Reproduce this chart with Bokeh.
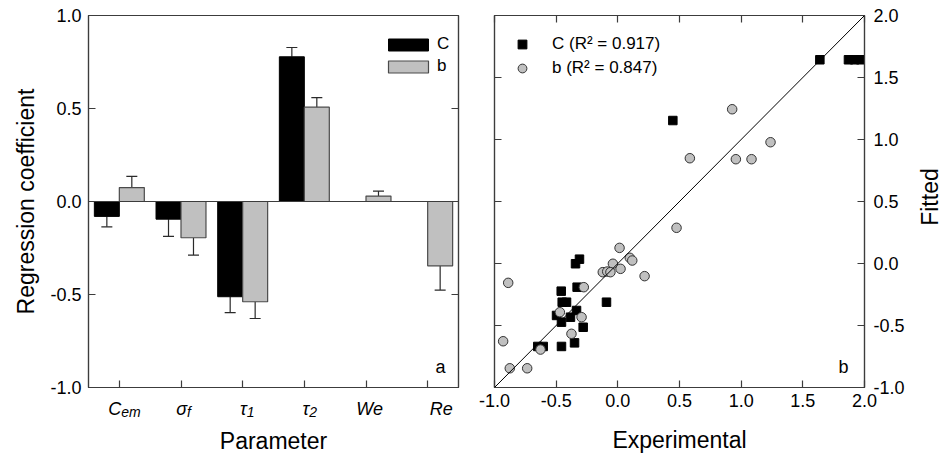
import math

from bokeh.core.properties import value
from bokeh.embed import file_html
from bokeh.layouts import column, row
from bokeh.models import (ColumnDataSource, FixedTicker, Label, Legend, LegendItem,
                          LinearAxis, PrintfTickFormatter, Range1d, Slope, Span,
                          TeeHead, Whisker)
from bokeh.plotting import figure
from bokeh.resources import INLINE

nan = float("nan")

# ---- panel a: regression coefficients of each parameter ----
param_base = ["C", "σ", "τ", "τ", "We", "Re"]
param_sub = ["em", "f", "1", "2", "", ""]
coef_C = [-0.080, -0.095, -0.512, 0.778, nan, nan]
err_C = [0.056, 0.093, 0.085, 0.050, nan, nan]
coef_b = [0.075, -0.195, -0.539, 0.507, 0.029, -0.346]
err_b = [0.060, 0.093, 0.090, 0.052, 0.027, 0.130]
coef_ticks = [-1.0, -0.5, 0.0, 0.5, 1.0]

# ---- panel b: fitted against experimental values ----
exp_C = [0.446, 1.638, 1.870, 1.920, 1.970, -0.311, -0.343, -0.330, -0.459, -0.451,
         -0.416, -0.092, -0.335, -0.497, -0.384, -0.457, -0.281, -0.649, -0.605,
         -0.457, -0.351]
fit_C = [1.153, 1.643, 1.643, 1.643, 1.643, 0.035, -0.002, -0.191, -0.223, -0.312,
         -0.312, -0.312, -0.379, -0.419, -0.433, -0.473, -0.514, -0.669, -0.669,
         -0.669, -0.640]
exp_b = [0.476, 0.014, -0.040, -0.122, -0.086, -0.060, 0.022, 0.097, 0.117, 0.217,
         -0.889, -0.276, -0.470, -0.294, -0.376, -0.627, -0.930, -0.876, -0.735,
         0.927, 0.584, 0.957, 1.084, 1.238]
fit_b = [0.288, 0.126, -0.002, -0.070, -0.065, -0.070, -0.043, 0.046, 0.024, -0.102,
         -0.156, -0.191, -0.393, -0.433, -0.567, -0.694, -0.627, -0.845, -0.845,
         1.244, 0.849, 0.841, 0.841, 0.978]
r2_C = 0.917
r2_b = 0.847
xy_ticks = [-1.0, -0.5, 0.0, 0.5, 1.0, 1.5, 2.0]

FONT = "Liberation Sans"
FRAME = "#3c3c3c"
GREY = "#c0c0c0"
TICK_PX = "18px"
TITLE_PX = "23px"
BAR_W = 0.405
FMT = PrintfTickFormatter(format="%.1f")


def style_axis(ax, labels=True):
    ax.axis_line_color = FRAME
    ax.axis_line_width = 1.2
    ax.major_tick_in = 7
    ax.major_tick_out = 0
    ax.major_tick_line_color = FRAME
    ax.major_tick_line_width = 1.2
    ax.minor_tick_line_color = None
    ax.major_label_text_font = FONT
    ax.axis_label_text_font = FONT
    ax.axis_label_text_font_size = TITLE_PX
    ax.axis_label_text_font_style = "normal"
    ax.axis_label_text_color = "black"
    if labels:
        ax.major_label_text_font_size = TICK_PX
        ax.major_label_text_color = "black"
        ax.formatter = FMT
    else:
        # tick marks only
        ax.major_label_text_font_size = "1px"
        ax.major_label_text_color = None
        ax.major_label_standoff = 0


def style_frame(p):
    p.outline_line_color = FRAME
    p.outline_line_width = 1.2
    p.xgrid.visible = False
    p.ygrid.visible = False
    p.background_fill_color = "white"
    p.border_fill_color = "white"


def text_strip(width, height, x_range):
    # borderless area that only carries titles / labels
    s = figure(width=width, height=height, output_backend="svg", toolbar_location=None,
               title=None, x_range=x_range, y_range=Range1d(height, 0),
               x_axis_type=None, y_axis_type=None, min_border_top=0,
               min_border_bottom=0, min_border_left=0, min_border_right=0)
    s.outline_line_color = None
    s.xgrid.visible = False
    s.ygrid.visible = False
    s.border_fill_color = "white"
    s.background_fill_color = "white"
    return s


# ================= panel a =================
pos = list(range(1, len(param_base) + 1))
pa = figure(width=470, height=397, output_backend="svg", toolbar_location=None,
            title=None, x_range=Range1d(0.5, len(pos) + 0.5), y_range=Range1d(-1, 1),
            min_border_left=88, min_border_right=12, min_border_top=15,
            min_border_bottom=10)
style_frame(pa)

src_a = ColumnDataSource(dict(
    xc=[x - BAR_W / 2 for x in pos], xb=[x + BAR_W / 2 for x in pos],
    C=coef_C, b=coef_b))

pa.add_layout(Span(location=0, dimension="width", line_color=FRAME, line_width=1.2))
bar_C = pa.vbar(x="xc", top="C", bottom=0, width=BAR_W, source=src_a,
                fill_color="black", line_color="black", line_width=1)
bar_b = pa.vbar(x="xb", top="b", bottom=0, width=BAR_W, source=src_a,
                fill_color=GREY, line_color="#4a4a4a", line_width=1.2)


def add_errors(p, xs, vals, errs):
    # one-sided error bars, pointing away from zero
    keep = [(x, v, e) for x, v, e in zip(xs, vals, errs) if not math.isnan(v)]
    src = ColumnDataSource(dict(
        x=[k[0] for k in keep],
        lo=[k[1] for k in keep],
        hi=[k[1] + (k[2] if k[1] >= 0 else -k[2]) for k in keep]))
    p.add_layout(Whisker(source=src, base="x", lower="lo", upper="hi",
                         line_color="#2a2a2a", line_width=1.2, lower_head=None,
                         upper_head=TeeHead(size=11, line_color="#2a2a2a",
                                            line_width=1.2)))


add_errors(pa, src_a.data["xc"], coef_C, err_C)
add_errors(pa, src_a.data["xb"], coef_b, err_b)

ax_l = pa.yaxis[0]
style_axis(ax_l)
ax_l.ticker = FixedTicker(ticks=coef_ticks)
ax_l.axis_label = "Regression coefficient"
ax_l.major_label_standoff = 7
ax_l.axis_label_standoff = 8

ax_b = pa.xaxis[0]
style_axis(ax_b, labels=False)
ax_b.ticker = FixedTicker(ticks=pos)

ax_r = LinearAxis(ticker=FixedTicker(ticks=coef_ticks))
style_axis(ax_r, labels=False)
pa.add_layout(ax_r, "right")

pa.add_layout(Label(x=len(pos) + 0.5, y=-1, x_offset=-13, y_offset=21, text="a",
                    text_align="right", text_baseline="alphabetic",
                    text_font=FONT, text_font_size="18px", text_color="black"))

leg_a = Legend(items=[LegendItem(label="C", renderers=[bar_C]),
                      LegendItem(label="b", renderers=[bar_b])],
               location=(295, 311), glyph_width=50, glyph_height=15,
               label_height=20, spacing=2, padding=0, margin=0, label_standoff=4,
               label_text_font=FONT, label_text_font_size="17px",
               label_text_color="black",
               background_fill_alpha=0, border_line_color=None)
pa.add_layout(leg_a)

# strip under panel a: italic parameter names with subscripts, and the axis title
sa = text_strip(470, 60, pa.x_range)
sa.min_border_left = 88
sa.min_border_right = 12

split_dx = [2, 6, 4, 5, 17, 25]
names = ColumnDataSource(dict(x=pos, base=param_base, sub=param_sub, dx=split_dx))
sa.text(x="x", y=11, text="base", x_offset="dx", source=names,
        text_align=value("right"), text_baseline=value("alphabetic"),
        text_font=value(FONT), text_font_size=value("18px"),
        text_font_style=value("italic"), text_color="black")
sa.text(x="x", y=14, text="sub", x_offset="dx", source=names,
        text_align=value("left"), text_baseline=value("alphabetic"),
        text_font=value(FONT), text_font_size=value("14px"),
        text_font_style=value("italic"), text_color="black")
sa.text(x=[(len(pos) + 1) / 2], y=[43], text=["Parameter"],
        text_align=value("center"), text_baseline=value("alphabetic"),
        text_font=value(FONT), text_font_size=value(TITLE_PX), text_color="black")

# ================= panel b =================
pb = figure(width=440, height=457, output_backend="svg", toolbar_location=None,
            title=None, x_range=Range1d(-1, 2), y_range=Range1d(-1, 2),
            y_axis_location="right", min_border_left=24, min_border_right=46,
            min_border_top=15, min_border_bottom=70)
style_frame(pb)

pb.add_layout(Slope(gradient=1, y_intercept=0, line_color="black", line_width=1))
pts_C = pb.scatter(exp_C, fit_C, marker="square", size=8.5, fill_color="black",
                   line_color="black", line_width=1)
pts_b = pb.scatter(exp_b, fit_b, marker="circle", size=9.5, fill_color=GREY,
                   line_color="#333333", line_width=1)

bx = pb.xaxis[0]
style_axis(bx)
bx.ticker = FixedTicker(ticks=xy_ticks)
bx.axis_label = "Experimental"
bx.major_label_standoff = 6
bx.axis_label_standoff = 17

by = pb.yaxis[0]
style_axis(by)
by.ticker = FixedTicker(ticks=xy_ticks)
by.major_label_standoff = 9

for side in ("left", "above"):
    extra = LinearAxis(ticker=FixedTicker(ticks=xy_ticks))
    style_axis(extra, labels=False)
    pb.add_layout(extra, side)

pb.add_layout(Label(x=2, y=-1, x_offset=-16, y_offset=21, text="b",
                    text_align="right", text_baseline="alphabetic",
                    text_font=FONT, text_font_size="18px", text_color="black"))

leg_b = Legend(items=[LegendItem(label=f"C (R² = {r2_C:.3f})", renderers=[pts_C]),
                      LegendItem(label=f"b (R² = {r2_b:.3f})", renderers=[pts_b])],
               location=(17, 308), glyph_width=22, glyph_height=22,
               label_height=22, spacing=2, padding=0, margin=0, label_standoff=19,
               label_text_font=FONT, label_text_font_size="17px",
               label_text_color="black",
               background_fill_alpha=0, border_line_color=None)
pb.add_layout(leg_b)

# strip right of panel b: the y title, reading upwards beside the frame
sb = text_strip(36, 457, Range1d(0, 36))
sb.text(x=[19], y=[223], text=["Fitted"], angle=90, angle_units="deg",
        text_align=value("center"), text_baseline=value("middle"),
        text_font=value(FONT), text_font_size=value(TITLE_PX), text_color="black")

layout = row(column(pa, sa), pb, sb)
open("out.html", "w").write(file_html(layout, INLINE))
